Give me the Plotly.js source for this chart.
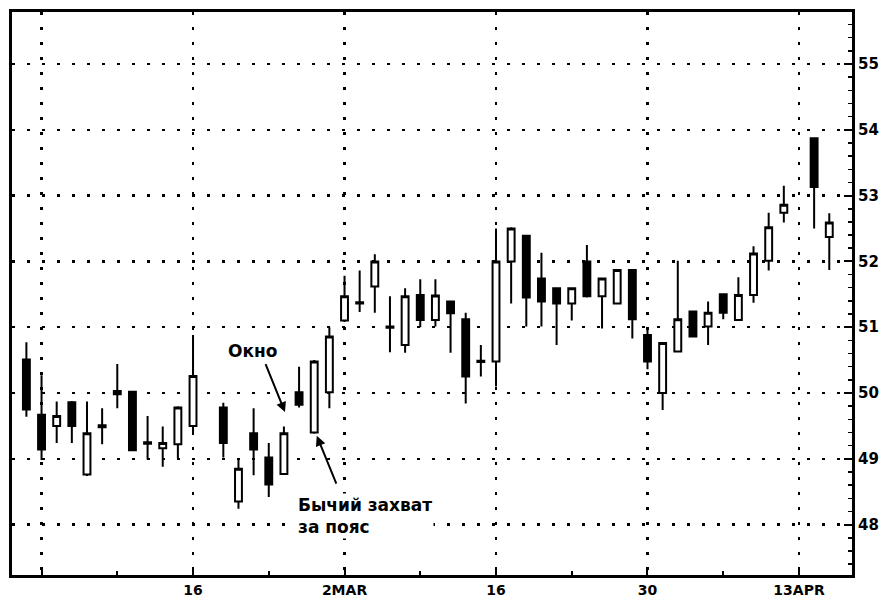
<!DOCTYPE html>
<html>
<head>
<meta charset="utf-8">
<script src="https://cdn.plot.ly/plotly-3.0.1.min.js"></script>
<style>html,body{margin:0;padding:0;background:#fff}#chart{width:883px;height:607px}</style>
</head>
<body>
<div id="chart"></div>
<script>
// trading-day index (0 = first gridline, early Feb)
const day   = [-1,0,1,2,3,4,5,6,7,8,9,10,12,13,14,15,16,17,18,19,20,21,22,23,24,25,26,27,28,29,30,31,32,33,34,35,36,37,38,39,40,41,42,43,44,45,46,47,48,49,51,52];
const open  = [50.51,49.67,49.50,49.86,48.76,49.48,50.03,50.02,49.25,49.16,49.22,49.50,49.78,48.35,49.39,49.02,48.77,50.01,49.40,50.01,51.10,51.38,51.62,51.01,50.73,51.49,51.11,51.39,51.12,50.49,50.48,52.00,52.39,51.74,51.59,51.36,52.00,51.47,51.36,51.87,50.88,50.00,50.63,51.24,51.01,51.50,51.11,51.49,52.01,52.74,53.87,52.37];
const high  = [50.77,50.27,49.87,49.88,49.87,49.77,50.44,50.02,49.65,49.49,49.80,50.88,49.85,49.01,49.77,49.24,49.49,50.40,50.50,51.00,51.78,51.86,52.11,51.47,51.59,51.73,51.73,51.40,51.22,50.73,52.50,52.52,52.40,52.13,51.60,51.60,52.25,51.75,51.88,51.88,50.98,50.77,52.01,51.25,51.39,51.51,51.76,52.23,52.74,53.15,53.88,52.73];
const low   = [49.64,48.98,49.24,49.24,48.74,49.22,49.77,49.12,48.99,48.88,49.00,49.40,49.02,48.24,48.75,48.42,48.76,49.78,49.38,49.77,51.08,51.23,51.22,50.62,50.61,51.00,51.01,50.61,49.84,50.25,50.10,51.36,51.01,51.01,50.73,51.10,51.45,50.98,51.35,50.83,50.36,49.74,50.62,50.85,50.73,51.12,51.10,51.37,51.86,52.59,52.50,51.87];
const close = [49.75,49.14,49.65,49.50,49.39,49.51,49.98,49.13,49.23,49.24,49.78,50.26,49.24,48.85,49.14,48.61,49.39,49.82,50.48,50.86,51.47,51.36,52.00,50.99,51.47,51.11,51.48,51.21,50.25,50.47,52.00,52.50,51.45,51.39,51.36,51.59,51.47,51.74,51.87,51.12,50.48,50.76,51.12,50.86,51.22,51.22,51.49,52.12,52.52,52.86,53.13,52.59];

const xTickVals  = [0,10,20,30,40,50];
const xTickText  = ['', '16', '2MAR', '16', '30', '13APR'];
const yTickVals  = [48,49,50,51,52,53,54,55];

const gapLabel = 'Окно';
const beltLabel = 'Бычий захват<br>за пояс';

const trace = {
  type: 'candlestick',
  x: day, open: open, high: high, low: low, close: close,
  increasing: {line: {color: '#000', width: 2}, fillcolor: '#fff'},
  decreasing: {line: {color: '#000', width: 2}, fillcolor: '#000'},
  whiskerwidth: 0,
  hoverinfo: 'skip',
  showlegend: false
};

const xTickFont = {family: 'DejaVu Sans', size: 14, color: '#000', weight: 'bold'};
const yTickFont = {family: 'DejaVu Sans', size: 15, color: '#000', weight: 'bold'};
const annFont = {family: 'DejaVu Sans', size: 17, color: '#000', weight: 'bold'};

const layout = {
  width: 883, height: 607,
  margin: {l: 12, r: 31, t: 12, b: 32, pad: 0},
  paper_bgcolor: '#fff', plot_bgcolor: '#fff',
  showlegend: false,
  hovermode: false,
  boxgap: 0.35,
  xaxis: {
    type: 'linear',
    range: [-1.95, 53.5],
    tickmode: 'array', tickvals: xTickVals, ticktext: xTickText,
    showgrid: true, gridcolor: '#000', gridwidth: 2.5, griddash: '3px,12px',
    ticks: 'inside', ticklen: 8, tickwidth: 2, tickcolor: '#000',
    minor: {tick0: 0, dtick: 5, ticks: 'inside', ticklen: 4, tickwidth: 2, tickcolor: '#000', showgrid: false},
    showline: true, linecolor: '#000', linewidth: 3, mirror: true,
    zeroline: false,
    rangeslider: {visible: false},
    tickfont: xTickFont
  },
  yaxis: {
    side: 'right',
    range: [47.234, 55.79],
    tickmode: 'array', tickvals: yTickVals,
    showgrid: true, gridcolor: '#000', gridwidth: 2.5, griddash: '3px,12px',
    ticks: 'inside', ticklen: 8, tickwidth: 2, tickcolor: '#000',
    minor: {tick0: 48, dtick: 0.2, ticks: 'inside', ticklen: 4, tickwidth: 1.5, tickcolor: '#000', showgrid: false},
    showline: true, linecolor: '#000', linewidth: 3, mirror: true,
    zeroline: false,
    tickfont: yTickFont
  },
  annotations: [
    {x: 13.9, y: 50.64, xref: 'x', yref: 'y', text: gapLabel, showarrow: false, font: annFont, xanchor: 'center', yanchor: 'middle', bgcolor: '#fff'},
    {x: 16.07, y: 49.71, xref: 'x', yref: 'y', ax: 14.75, ay: 50.46, axref: 'x', ayref: 'y', text: '', showarrow: true, arrowhead: 2, arrowsize: 1, arrowwidth: 2, arrowcolor: '#000', standoff: 0, startstandoff: 0},
    {x: 16.8, y: 48.48, xref: 'x', yref: 'y', text: beltLabel, showarrow: false, font: annFont, xanchor: 'left', yanchor: 'top', align: 'left', bgcolor: '#fff'},
    {x: 18.17, y: 49.35, xref: 'x', yref: 'y', ax: 19.5, ay: 48.60, axref: 'x', ayref: 'y', text: '', showarrow: true, arrowhead: 2, arrowsize: 1, arrowwidth: 2, arrowcolor: '#000', standoff: 0, startstandoff: 0}
  ]
};

Plotly.newPlot('chart', [trace], layout, {staticPlot: true, displayModeBar: false});
</script>
</body>
</html>
